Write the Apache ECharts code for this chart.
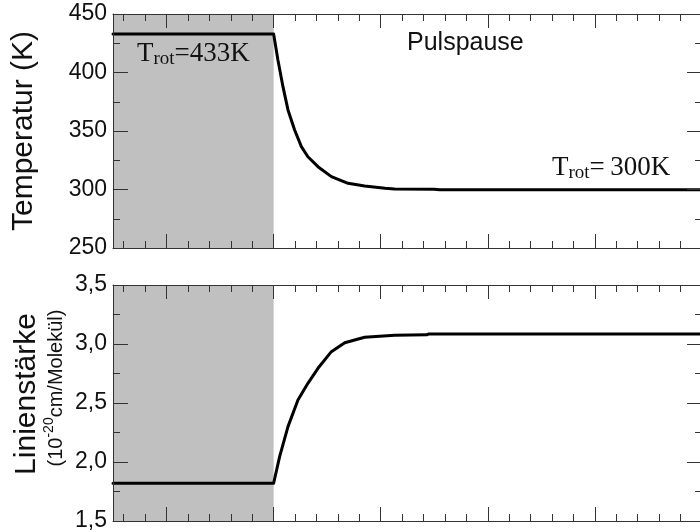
<!DOCTYPE html>
<html>
<head>
<meta charset="utf-8">
<script src="https://cdn.jsdelivr.net/npm/echarts@6/dist/echarts.min.js"></script>
<style>
html,body{margin:0;padding:0;background:#fff;}
#chart{width:700px;height:532px;}
</style>
</head>
<body>
<div id="chart"></div>
<script>
// ---- data ----
const shadedRange = [-1.5, 0];            // grey "pulse" interval
const xRange = [-1.5, 4];
const xMajorTicks = [-1, 0, 1, 2, 3, 4];
const xMinorTicks = [-1.4, -1.2, -0.8, -0.6, -0.4, -0.2, 0.2, 0.4, 0.6, 0.8,
                     1.2, 1.4, 1.6, 1.8, 2.2, 2.4, 2.6, 2.8, 3.2, 3.4, 3.6, 3.8];

const timeT = [-1.5, 0, 0.04, 0.087, 0.134, 0.196, 0.259, 0.32, 0.414, 0.539, 0.695, 0.85, 1.04, 1.13, 1.5, 1.55, 4];
const temperature = [433, 433, 410.7, 387.9, 368, 350.9, 336.6, 328, 319.5, 311, 305.3, 303, 301, 300.4, 300.3, 299.8, 299.8];

const timeS = [-1.5, 0, 0.056, 0.134, 0.227, 0.32, 0.414, 0.539, 0.664, 0.85, 1.13, 1.43, 1.45, 4];
const strength = [1.82, 1.82, 2.045, 2.30, 2.525, 2.667, 2.794, 2.935, 3.011, 3.057, 3.075, 3.078, 3.085, 3.085];

const tempAxis = {min: 250, max: 450, interval: 50};
const strengthAxis = {min: 1.5, max: 3.5, interval: 0.5};

// ---- chart ----
const chart = echarts.init(document.getElementById('chart'), null, {renderer: 'canvas'});
const AX = '#333';
const labelFont = {fontFamily: 'Liberation Sans', fontSize: 23, color: '#111'};

function xAxes(grid) {
  const base = {
    gridIndex: grid, type: 'value', min: xRange[0], max: xRange[1], z: 5,
    axisLabel: {show: false}, splitLine: {show: false}
  };
  const out = [];
  ['bottom', 'top'].forEach(pos => {
    out.push(Object.assign({}, base, {
      position: pos,
      axisLine: {show: true, onZero: false, lineStyle: {color: AX, width: 1}},
      axisTick: {show: true, inside: true, length: 14, customValues: xMajorTicks, lineStyle: {color: AX, width: 1}}
    }));
    out.push(Object.assign({}, base, {
      position: pos,
      axisLine: {show: false, onZero: false},
      axisTick: {show: true, inside: true, length: 7, customValues: xMinorTicks, lineStyle: {color: AX, width: 1}}
    }));
  });
  return out;
}

function yAxes(grid, spec, fmt) {
  const base = {
    gridIndex: grid, type: 'value', min: spec.min, max: spec.max, interval: spec.interval, z: 5,
    axisLine: {show: true, onZero: false, lineStyle: {color: AX, width: 1}},
    axisTick: {show: true, inside: true, length: 15, lineStyle: {color: AX, width: 1}},
    minorTick: {show: true, splitNumber: 2, length: 7, lineStyle: {color: AX, width: 1}},
    splitLine: {show: false}, minorSplitLine: {show: false}
  };
  return [
    Object.assign({}, base, {position: 'left',
      axisLabel: Object.assign({show: true, margin: 6, formatter: fmt}, labelFont)}),
    Object.assign({}, base, {position: 'right', axisLabel: {show: false}})
  ];
}

const grids = [
  {left: 113, top: 14, width: 589, height: 234, containLabel: false, outerBoundsMode: 'none'},
  {left: 113, top: 285, width: 589, height: 236, containLabel: false, outerBoundsMode: 'none'}
];

const option = {
  animation: false,
  backgroundColor: '#fff',
  grid: grids,
  xAxis: xAxes(0).concat(xAxes(1)),
  yAxis: yAxes(0, tempAxis, v => String(v)).concat(
         yAxes(1, strengthAxis, v => v.toFixed(1).replace('.', ','))),
  series: [
    {
      type: 'line', xAxisIndex: 0, yAxisIndex: 0, z: 1, silent: true, symbol: 'none',
      data: [[shadedRange[0], tempAxis.max], [shadedRange[1], tempAxis.max]],
      lineStyle: {width: 0}, areaStyle: {color: '#c0c0c0', opacity: 1, origin: 'start'}
    },
    {
      type: 'line', xAxisIndex: 0, yAxisIndex: 0, z: 3, symbol: 'none', smooth: false,
      data: timeT.map((t, i) => [t, temperature[i]]),
      lineStyle: {color: '#000', width: 3, join: 'round', cap: 'round'}
    },
    {
      type: 'line', xAxisIndex: 4, yAxisIndex: 2, z: 1, silent: true, symbol: 'none',
      data: [[shadedRange[0], strengthAxis.max], [shadedRange[1], strengthAxis.max]],
      lineStyle: {width: 0}, areaStyle: {color: '#c0c0c0', opacity: 1, origin: 'start'}
    },
    {
      type: 'line', xAxisIndex: 4, yAxisIndex: 2, z: 3, symbol: 'none', smooth: false,
      data: timeS.map((t, i) => [t, strength[i]]),
      lineStyle: {color: '#000', width: 3, join: 'round', cap: 'round'}
    }
  ],
  graphic: [
    {
      type: 'text', x: 24, y: 131, rotation: Math.PI / 2, z: 100,
      style: {text: 'Temperatur (K)', fill: '#111', font: '30px "Liberation Sans"',
              align: 'center', verticalAlign: 'middle', textAlign: 'center', textVerticalAlign: 'middle'}
    },
    {
      type: 'text', x: 27, y: 394, rotation: Math.PI / 2, z: 100,
      style: {text: 'Linienstärke', fill: '#111', font: '30px "Liberation Sans"',
              align: 'center', verticalAlign: 'middle', textAlign: 'center', textVerticalAlign: 'middle'}
    },
    {
      type: 'text', x: 54, y: 388, rotation: Math.PI / 2, z: 100,
      style: {
        text: '{a|(10}{s|-20}{a|cm/Molekül)}', fill: '#111',
        align: 'center', verticalAlign: 'middle', textAlign: 'center', textVerticalAlign: 'middle',
        rich: {
          a: {fontFamily: 'Liberation Sans', fontSize: 20, lineHeight: 24, verticalAlign: 'bottom', fill: '#111', color: '#111'},
          s: {fontFamily: 'Liberation Sans', fontSize: 14, lineHeight: 16, verticalAlign: 'top', fill: '#111', color: '#111'}
        }
      }
    },
    {
      type: 'text', x: 137, y: 54, z: 100,
      style: {
        text: '{m|T}{s|rot}{m|=433K}', fill: '#111',
        align: 'left', verticalAlign: 'middle', textAlign: 'left', textVerticalAlign: 'middle',
        rich: {
          m: {fontFamily: 'Liberation Serif', fontSize: 27, lineHeight: 30, verticalAlign: 'middle', fill: '#111', color: '#111'},
          s: {fontFamily: 'Liberation Serif', fontSize: 19, lineHeight: 20, verticalAlign: 'bottom', fill: '#111', color: '#111'}
        }
      }
    },
    {
      type: 'text', x: 552, y: 168, z: 100,
      style: {
        text: '{m|T}{s|rot}{m|=\u2009300K}', fill: '#111',
        align: 'left', verticalAlign: 'middle', textAlign: 'left', textVerticalAlign: 'middle',
        rich: {
          m: {fontFamily: 'Liberation Serif', fontSize: 27, lineHeight: 30, verticalAlign: 'middle', fill: '#111', color: '#111'},
          s: {fontFamily: 'Liberation Serif', fontSize: 19, lineHeight: 20, verticalAlign: 'bottom', fill: '#111', color: '#111'}
        }
      }
    },
    {
      type: 'text', x: 407, y: 43, z: 100,
      style: {text: 'Pulspause', fill: '#111', font: '25px "Liberation Sans"',
              align: 'left', verticalAlign: 'middle', textAlign: 'left', textVerticalAlign: 'middle'}
    }
  ]
};
chart.setOption(option);
</script>
</body>
</html>
